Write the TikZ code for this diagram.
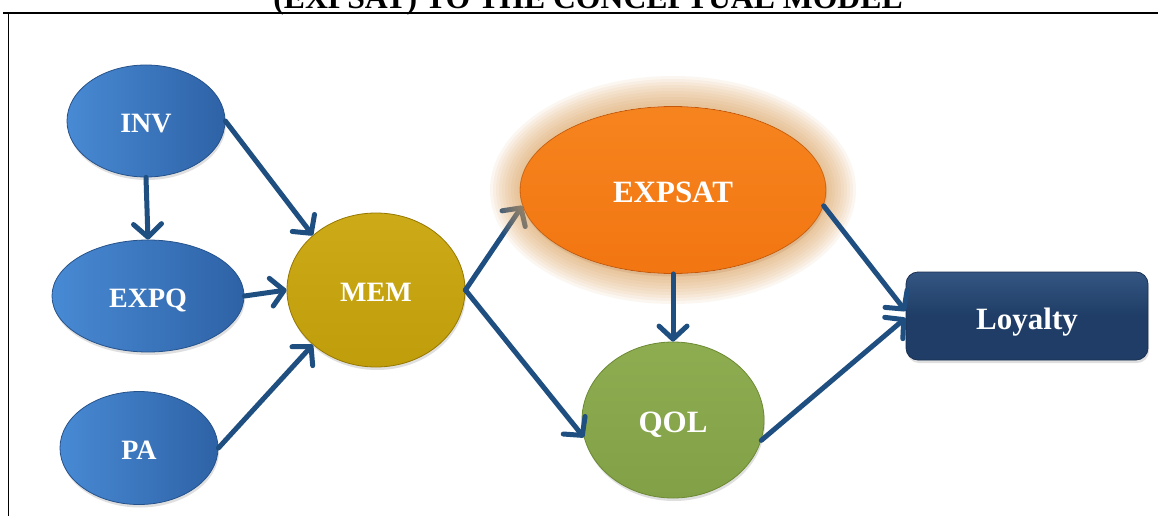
\documentclass[tikz,border=0pt]{standalone}
\usepackage{fontspec}
\setmainfont{Liberation Serif}
\usetikzlibrary{arrows.meta,shapes.geometric,shadows}
\definecolor{arrowblue}{RGB}{31,78,128}
\definecolor{blueL}{RGB}{72,138,212}
\definecolor{blueR}{RGB}{46,98,166}
\definecolor{blueE}{RGB}{38,82,140}
\definecolor{memC}{RGB}{192,157,10}
\definecolor{memT}{RGB}{204,170,24}
\definecolor{memE}{RGB}{150,120,0}
\definecolor{expC}{RGB}{242,118,18}
\definecolor{expT}{RGB}{246,132,30}
\definecolor{expE}{RGB}{196,88,10}
\definecolor{qolC}{RGB}{130,160,70}
\definecolor{qolT}{RGB}{142,172,80}
\definecolor{qolE}{RGB}{108,138,52}
\definecolor{loyC}{RGB}{31,61,102}
\definecolor{loyT}{RGB}{52,86,130}
\definecolor{loyE}{RGB}{24,48,82}
\definecolor{glowC}{RGB}{222,162,92}
\newcommand{\ntxt}[1]{\raisebox{-2.5pt}[\height][0pt]{#1}}
\begin{document}
\begin{tikzpicture}[x=1pt,y=-1pt,
  conn/.style={draw=arrowblue, line width=5pt, line cap=round,
    -{Straight Barb[length=13pt,width=28pt,round]}},
  base/.style={inner sep=0pt, text=white, line width=0.8pt,
    drop shadow={opacity=0.25, shadow xshift=1pt, shadow yshift=-3pt}},
  blueell/.style={base, ellipse, left color=blueL, right color=blueR, draw=blueE,
    font=\bfseries\fontsize{28}{30}\selectfont},
  memell/.style={base, ellipse, top color=memT, bottom color=memC, draw=memE,
    font=\bfseries\fontsize{28}{30}\selectfont},
  expell/.style={base, ellipse, top color=expT, bottom color=expC, draw=expE,
    font=\bfseries\fontsize{31}{33}\selectfont},
  qolell/.style={base, ellipse, top color=qolT, bottom color=qolC, draw=qolE,
    font=\bfseries\fontsize{31}{33}\selectfont},
  loybox/.style={base, rectangle, rounded corners=12pt, top color=loyT, bottom color=loyC,
    middle color=loyC, draw=loyE, font=\bfseries\fontsize{31}{33}\selectfont},
  frame/.style={draw=black},
  titletext/.style={font=\bfseries\fontsize{31.7}{34}\selectfont, inner sep=0pt, anchor=base}
]
\useasboundingbox (0,0) rectangle (1158,516);
\fill[white] (0,0) rectangle (1158,516);

% frame and cut-off title
\node[titletext] (title) at (588,9) {(EXPSAT) TO THE CONCEPTUAL MODEL};
\draw[frame, line width=2pt] (3,13) -- (1158,13);
\draw[frame, line width=1pt] (8,13) -- (8,516);

% nodes
\node[blueell, minimum width=158pt, minimum height=112pt] (inv) at (146,121) {\ntxt{INV}};
\node[blueell, minimum width=192pt, minimum height=112pt] (expq) at (148,296) {\ntxt{EXPQ}};
\node[blueell, minimum width=158pt, minimum height=113pt] (pa) at (139,448) {\ntxt{PA}};
\node[memell, minimum width=178pt, minimum height=154pt] (mem) at (376,290) {\ntxt{MEM}};
\node[expell, minimum width=306pt, minimum height=167pt] (expsat) at (673,190) {\ntxt{EXPSAT}};
\node[qolell, minimum width=182pt, minimum height=156pt] (qol) at (673,420) {\ntxt{QOL}};
\node[loybox, minimum width=242pt, minimum height=88pt] (loy) at (1027,316) {\ntxt{Loyalty}};

% arrow into EXPSAT (later tinted by glow)
\draw[conn] (mem.east) -- (expsat.186);

% glow around EXPSAT
\foreach \i in {1,...,10}{
  \fill[glowC, opacity=0.085, even odd rule]
    (expsat.center) ellipse [x radius={153+3*\i}, y radius={84+3*\i}]
    (expsat.center) ellipse [x radius=153, y radius=84];
}

% other connectors
\draw[conn] (inv.south) -- (expq.north);
\draw[conn] (inv.east) -- (mem.north west);
\draw[conn] (expq.east) -- (mem.west);
\draw[conn] (pa.east) -- (mem.south west);
\draw[conn] (mem.east) -- (qol.191);
\draw[conn] (expsat.south) -- (qol.north);
\draw[conn] (expsat.354) -- ([yshift=5pt]loy.west);
\draw[conn] (qol.347) -- ([yshift=-2pt]loy.west);
\end{tikzpicture}
\end{document}
